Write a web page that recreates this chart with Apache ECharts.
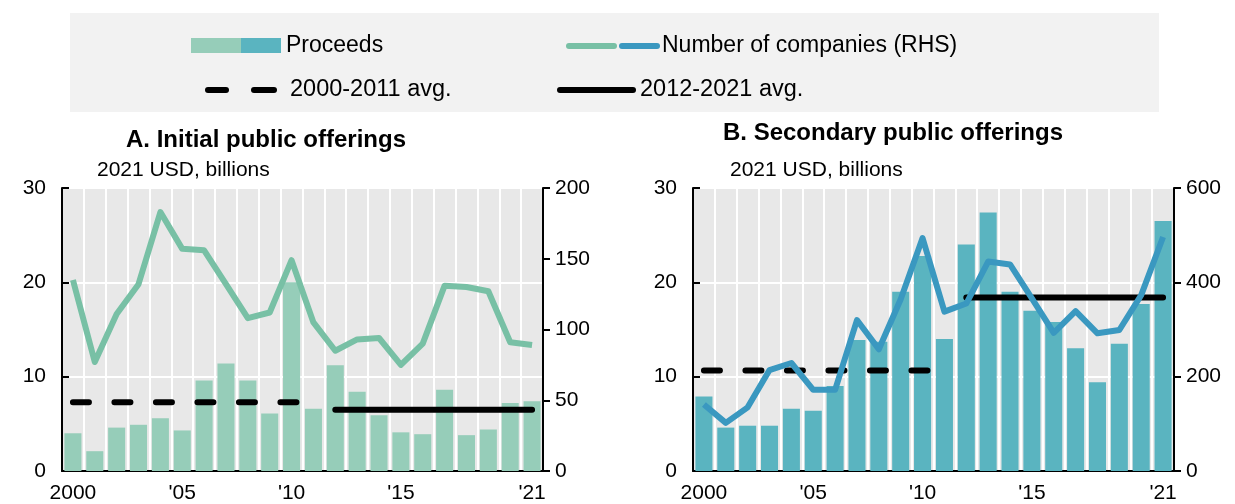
<!DOCTYPE html>
<html>
<head>
<meta charset="utf-8">
<script src="https://cdn.jsdelivr.net/npm/echarts@6/dist/echarts.min.js"></script>
<style>
html,body{margin:0;padding:0;background:#fff;}
#c{width:1235px;height:504px;}
</style>
</head>
<body>
<div id="c"></div>
<script>
var years = ['2000','2001','2002','2003','2004','2005','2006','2007','2008','2009','2010','2011','2012','2013','2014','2015','2016','2017','2018','2019','2020','2021'];
var yearLabels = {'2000':'2000','2005':"'05",'2010':"'10",'2015':"'15",'2021':"'21"};

// Panel A: Initial public offerings
var ipoProceeds = [4.0,2.1,4.6,4.9,5.6,4.3,9.6,11.4,9.6,6.1,20.0,6.6,11.2,8.4,5.9,4.1,3.9,8.6,3.8,4.4,7.2,7.4];
var ipoCompanies = [135,77,111,132,183,157,156,132,108,112,149,105,85,93,94,75,90,131,130,127,91,89];
var ipoAvgEarly = 7.3;   // 2000-2011 avg.
var ipoAvgLate = 6.5;    // 2012-2021 avg.

// Panel B: Secondary public offerings
var spoProceeds = [7.9,4.6,4.8,4.8,6.6,6.4,9.0,13.9,13.7,19.0,22.8,14.0,24.0,27.4,19.0,17.0,15.8,13.0,9.4,13.5,17.7,26.5];
var spoCompanies = [141,102,135,214,229,172,172,320,258,364,494,338,355,444,438,366,293,339,292,299,373,496];
var spoAvgEarly = 10.65;
var spoAvgLate = 18.4;

var C_IPO_BAR = '#96cdb9', C_SPO_BAR = '#5ab4c0', C_IPO_LINE = '#78c0a5', C_SPO_LINE = '#3a98c0';
var FONT = 'Arial, "Liberation Sans", sans-serif';

function avgSeries(val, fromYear, toYear){
  return years.map(function(y){ var n=+y; return (n>=fromYear && n<=toYear) ? val : '-'; });
}

function xAxis(gi){
  return {
    type:'category', gridIndex:gi, data:years, boundaryGap:true,
    axisLine:{show:true, lineStyle:{color:'#000', width:2}},
    axisTick:{show:false},
    axisLabel:{
      interval:0, margin:12, color:'#000', fontSize:21, fontFamily:FONT,
      formatter:function(v){ return yearLabels[v] || ''; }
    },
    splitLine:{show:true, interval:0, lineStyle:{color:'#fff', width:2}}
  };
}
function yLeft(gi){
  return {
    type:'value', gridIndex:gi, min:0, max:30, interval:10, position:'left',
    axisLine:{show:true, lineStyle:{color:'#000', width:2}},
    axisTick:{show:true, inside:true, length:7, lineStyle:{color:'#000', width:2}},
    axisLabel:{margin:16, color:'#000', fontSize:21, fontFamily:FONT},
    splitLine:{show:true, lineStyle:{color:'#fff', width:2}}
  };
}
function yRight(gi, max, interval){
  return {
    type:'value', gridIndex:gi, min:0, max:max, interval:interval, position:'right',
    axisLine:{show:true, lineStyle:{color:'#000', width:2}},
    axisTick:{show:true, inside:false, length:7, lineStyle:{color:'#000', width:2}},
    axisLabel:{margin:12, color:'#000', fontSize:21, fontFamily:FONT},
    splitLine:{show:false}
  };
}
function avgLine(data, xi, yi, dashed){
  return {
    type:'line', xAxisIndex:xi, yAxisIndex:yi, data:data, symbol:'none', silent:true, z:3,
    lineStyle:{color:'#000', width:6, type: dashed ? [16,25.5] : 'solid', cap:'round'}
  };
}

var chart = echarts.init(document.getElementById('c'), null, {renderer:'canvas'});
var legendY1 = 46, legendY2 = 90;
var LF = '23px ' + FONT;
chart.setOption({
  animation:false,
  backgroundColor:'#fff',
  textStyle:{fontFamily:FONT},
  grid:[
    {left:62, right:1235-543, top:188, bottom:31, show:true, backgroundColor:'#e8e8e8', borderWidth:0},
    {left:693, right:1235-1174, top:188, bottom:31, show:true, backgroundColor:'#e8e8e8', borderWidth:0}
  ],
  xAxis:[xAxis(0), xAxis(1)],
  yAxis:[yLeft(0), yRight(0,200,50), yLeft(1), yRight(1,600,200)],
  series:[
    {type:'bar', xAxisIndex:0, yAxisIndex:0, data:ipoProceeds, barCategoryGap:'22%', itemStyle:{color:C_IPO_BAR}, z:2},
    avgLine(avgSeries(ipoAvgEarly,2000,2011),0,0,true),
    avgLine(avgSeries(ipoAvgLate,2012,2021),0,0,false),
    {type:'line', xAxisIndex:0, yAxisIndex:1, data:ipoCompanies, symbol:'none', z:4, lineStyle:{color:C_IPO_LINE, width:6, join:'round'}},
    {type:'bar', xAxisIndex:1, yAxisIndex:2, data:spoProceeds, barCategoryGap:'22%', itemStyle:{color:C_SPO_BAR}, z:2},
    avgLine(avgSeries(spoAvgEarly,2000,2011),1,2,true),
    avgLine(avgSeries(spoAvgLate,2012,2021),1,2,false),
    {type:'line', xAxisIndex:1, yAxisIndex:3, data:spoCompanies, symbol:'none', z:4, lineStyle:{color:C_SPO_LINE, width:6, join:'round'}}
  ],
  graphic:[
    {type:'rect', left:70, top:13, shape:{width:1089, height:99}, style:{fill:'#f2f2f2'}, z:-1},
    {type:'rect', shape:{x:191, y:38, width:50, height:15}, style:{fill:C_IPO_BAR}},
    {type:'rect', shape:{x:241, y:38, width:40, height:15}, style:{fill:C_SPO_BAR}},
    {type:'text', x:286, y:legendY1, style:{text:'Proceeds', fill:'#000', font:LF, textVerticalAlign:'middle'}},
    {type:'line', shape:{x1:569, y1:legendY1, x2:614, y2:legendY1}, style:{stroke:C_IPO_LINE, lineWidth:6, lineCap:'round'}},
    {type:'line', shape:{x1:622, y1:legendY1, x2:657, y2:legendY1}, style:{stroke:C_SPO_LINE, lineWidth:6, lineCap:'round'}},
    {type:'text', x:662, y:legendY1, style:{text:'Number of companies (RHS)', fill:'#000', font:LF, textVerticalAlign:'middle'}},
    {type:'line', shape:{x1:208, y1:legendY2, x2:226, y2:legendY2}, style:{stroke:'#000', lineWidth:6, lineCap:'round'}},
    {type:'line', shape:{x1:254, y1:legendY2, x2:274, y2:legendY2}, style:{stroke:'#000', lineWidth:6, lineCap:'round'}},
    {type:'text', x:290, y:legendY2, style:{text:'2000-2011 avg.', fill:'#000', font:'23.5px ' + FONT, textVerticalAlign:'middle'}},
    {type:'line', shape:{x1:560, y1:legendY2, x2:633, y2:legendY2}, style:{stroke:'#000', lineWidth:6, lineCap:'round'}},
    {type:'text', x:640, y:legendY2, style:{text:'2012-2021 avg.', fill:'#000', font:'23.5px ' + FONT, textVerticalAlign:'middle'}},
    {type:'text', x:266, y:140, style:{text:'A. Initial public offerings', fill:'#000', font:'bold 24px ' + FONT, textAlign:'center', textVerticalAlign:'middle'}},
    {type:'text', x:893, y:133, style:{text:'B. Secondary public offerings', fill:'#000', font:'bold 24px ' + FONT, textAlign:'center', textVerticalAlign:'middle'}},
    {type:'text', x:97, y:170, style:{text:'2021 USD, billions', fill:'#000', font:'21px ' + FONT, textVerticalAlign:'middle'}},
    {type:'text', x:730, y:170, style:{text:'2021 USD, billions', fill:'#000', font:'21px ' + FONT, textVerticalAlign:'middle'}}
  ]
});
</script>
</body>
</html>
